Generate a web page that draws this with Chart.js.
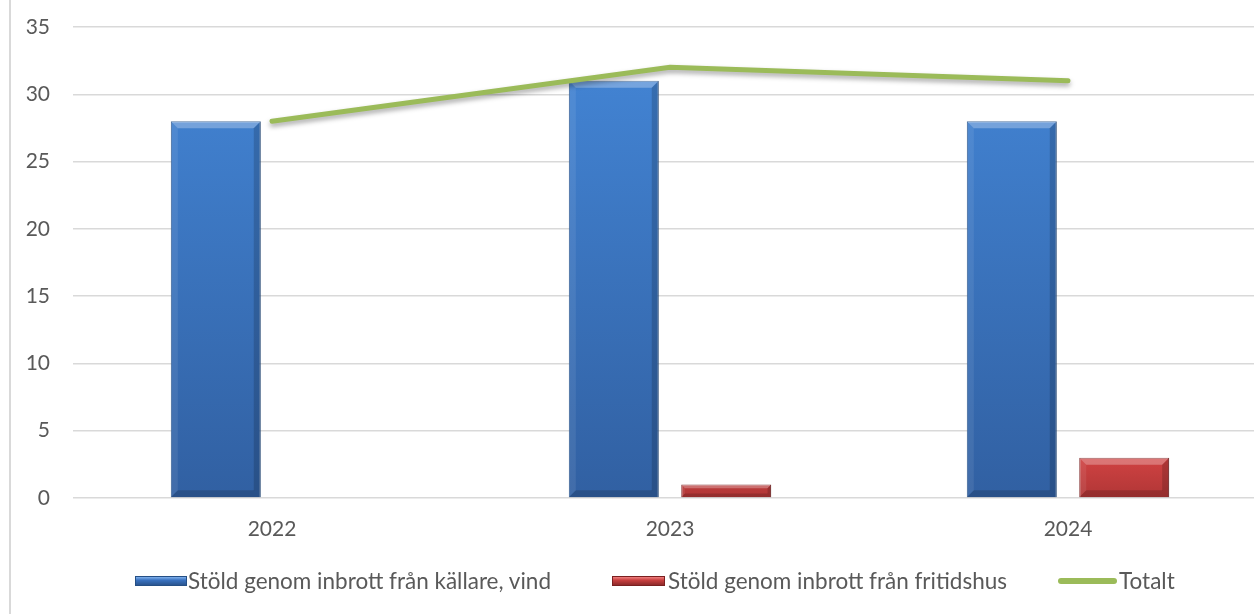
<!DOCTYPE html>
<html>
<head>
<meta charset="utf-8">
<script src="https://cdn.jsdelivr.net/npm/chart.js@4.4.1/dist/chart.umd.min.js"></script>
<style>
  html, body { margin: 0; padding: 0; background: #fff; overflow: hidden; }
  #wrap { position: relative; width: 1254px; height: 614px; overflow: hidden; }
  #frame { position: absolute; left: 9px; top: 0; width: 2px; height: 614px; background: #d9d9d9; }
  #cv { position: absolute; left: 0; top: 0; width: 1268px; height: 614px; }
  .lg { position: absolute; top: 568px; height: 26px; font-family: Lato, "Open Sans", sans-serif; font-size: 22.5px; color: #595959; line-height: 26px; white-space: nowrap; }
  .box { position: absolute; top: 8px; height: 10px; box-sizing: border-box; }
  .txt { position: absolute; top: 0; }
</style>
</head>
<body>
<div id="wrap">
  <div id="frame"></div>
  <div id="cv"><canvas id="c" width="1268" height="614"></canvas></div>
  <div class="lg" style="left:135px;">
    <div class="box" style="left:0;width:52px;background:linear-gradient(#7fb0ec,#3a72c0 40%,#2a5590);border:1px solid #254f85;"></div>
    <div class="txt" id="t0" style="left:53px;"></div>
  </div>
  <div class="lg" style="left:612px;">
    <div class="box" style="left:0;width:53px;background:linear-gradient(#f08080,#c8403f 40%,#8e2a2a);border:1px solid #7a2020;"></div>
    <div class="txt" id="t1" style="left:56px;"></div>
  </div>
  <div class="lg" style="left:1058px;">
    <div class="box" style="left:0;top:10px;width:59px;height:6px;border-radius:3px;background:#9bbb59;"></div>
    <div class="txt" id="t2" style="left:61px;"></div>
  </div>
</div>
<script>
const categories = ['2022', '2023', '2024'];
const seriesNames = ['Stöld genom inbrott från källare, vind', 'Stöld genom inbrott från fritidshus', 'Totalt'];
const kallareVind = [28, 31, 28];
const fritidshus = [0, 1, 3];
const totalt = [28, 32, 31];
const yMin = 0, yMax = 35, yStep = 5;

document.getElementById('t0').textContent = seriesNames[0];
document.getElementById('t1').textContent = seriesNames[1];
document.getElementById('t2').textContent = seriesNames[2];

const FONT = { family: 'Lato, "Open Sans", sans-serif', size: 21 };
const TXT = '#595959';

function blueGrad(ctx) {
  const ca = ctx.chart.chartArea;
  if (!ca) return '#3a72c0';
  const g = ctx.chart.ctx.createLinearGradient(0, ca.top, 0, ca.bottom);
  g.addColorStop(0, '#4487d8');
  g.addColorStop(1, '#3160a2');
  return g;
}
function redGrad(ctx) {
  const ca = ctx.chart.chartArea;
  if (!ca) return '#c8403f';
  const g = ctx.chart.ctx.createLinearGradient(0, ca.bottom - 45, 0, ca.bottom);
  g.addColorStop(0, '#d44444');
  g.addColorStop(1, '#b03636');
  return g;
}

const bevel = {
  id: 'bevel',
  afterDatasetDraw(chart, args) {
    const meta = args.meta;
    if (meta.type !== 'bar') return;
    const ctx = chart.ctx;
    ctx.save();
    meta.data.forEach(el => {
      const p = el.getProps(['x', 'y', 'base', 'width'], true);
      const h = p.base - p.y;
      if (h < 2) return;
      const l = p.x - p.width / 2, r = p.x + p.width / 2, t = p.y, bt = p.base;
      const b = Math.min(7, h / 3.5);
      const poly = (pts, col) => {
        ctx.beginPath();
        ctx.moveTo(pts[0][0], pts[0][1]);
        for (let i = 1; i < pts.length; i++) ctx.lineTo(pts[i][0], pts[i][1]);
        ctx.closePath();
        ctx.fillStyle = col;
        ctx.fill();
      };
      poly([[l, t], [r, t], [r - b, t + b], [l + b, t + b]], 'rgba(255,255,255,0.28)');
      poly([[l, t], [l + b, t + b], [l + b, bt - b], [l, bt]], 'rgba(255,255,255,0.08)');
      poly([[r, t], [r, bt], [r - b, bt - b], [r - b, t + b]], 'rgba(0,0,0,0.16)');
      poly([[l, bt], [r, bt], [r - b, bt - b], [l + b, bt - b]], 'rgba(0,0,0,0.16)');
    });
    ctx.restore();
  }
};

const lineShadow = {
  id: 'lineShadow',
  beforeDatasetDraw(chart, args) {
    if (args.meta.type !== 'line') return;
    const ctx = chart.ctx;
    ctx.save();
    ctx.shadowColor = 'rgba(0,0,0,0.35)';
    ctx.shadowBlur = 5;
    ctx.shadowOffsetY = 3;
  },
  afterDatasetDraw(chart, args) {
    if (args.meta.type !== 'line') return;
    chart.ctx.restore();
  }
};

new Chart(document.getElementById('c'), {
  data: {
    labels: categories,
    datasets: [
      {
        type: 'bar', label: seriesNames[0], data: kallareVind, order: 1,
        backgroundColor: blueGrad, borderColor: '#27538b', borderWidth: 1,
        categoryPercentage: 0.565, barPercentage: 0.8
      },
      {
        type: 'bar', label: seriesNames[1], data: fritidshus, order: 1,
        backgroundColor: redGrad, borderColor: '#7a2020', borderWidth: 1,
        categoryPercentage: 0.565, barPercentage: 0.8
      },
      {
        type: 'line', label: seriesNames[2], data: totalt, order: 0,
        borderColor: '#9bbb59', borderWidth: 5, pointRadius: 0, tension: 0,
        borderCapStyle: 'round', fill: false
      }
    ]
  },
  options: {
    responsive: false,
    animation: false,
    layout: { padding: { top: 27, right: 1, bottom: 0, left: 0 } },
    plugins: { legend: { display: false }, tooltip: { enabled: false } },
    scales: {
      x: {
        type: 'category',
        offset: true,
        grid: { display: false, drawTicks: false },
        border: { display: false },
        ticks: { color: TXT, font: FONT, padding: 19, maxRotation: 0 },
        afterFit(s) { s.height = 116; s.paddingLeft = 0; s.paddingRight = 0; }
      },
      y: {
        min: yMin, max: yMax,
        ticks: { stepSize: yStep, color: TXT, font: FONT, padding: 23 },
        grid: { color: '#d9d9d9', lineWidth: 1.5, drawTicks: false },
        border: { display: false },
        afterFit(s) { s.width = 73; s.paddingTop = 0; s.paddingBottom = 0; }
      }
    }
  },
  plugins: [bevel, lineShadow]
});
</script>
</body>
</html>
